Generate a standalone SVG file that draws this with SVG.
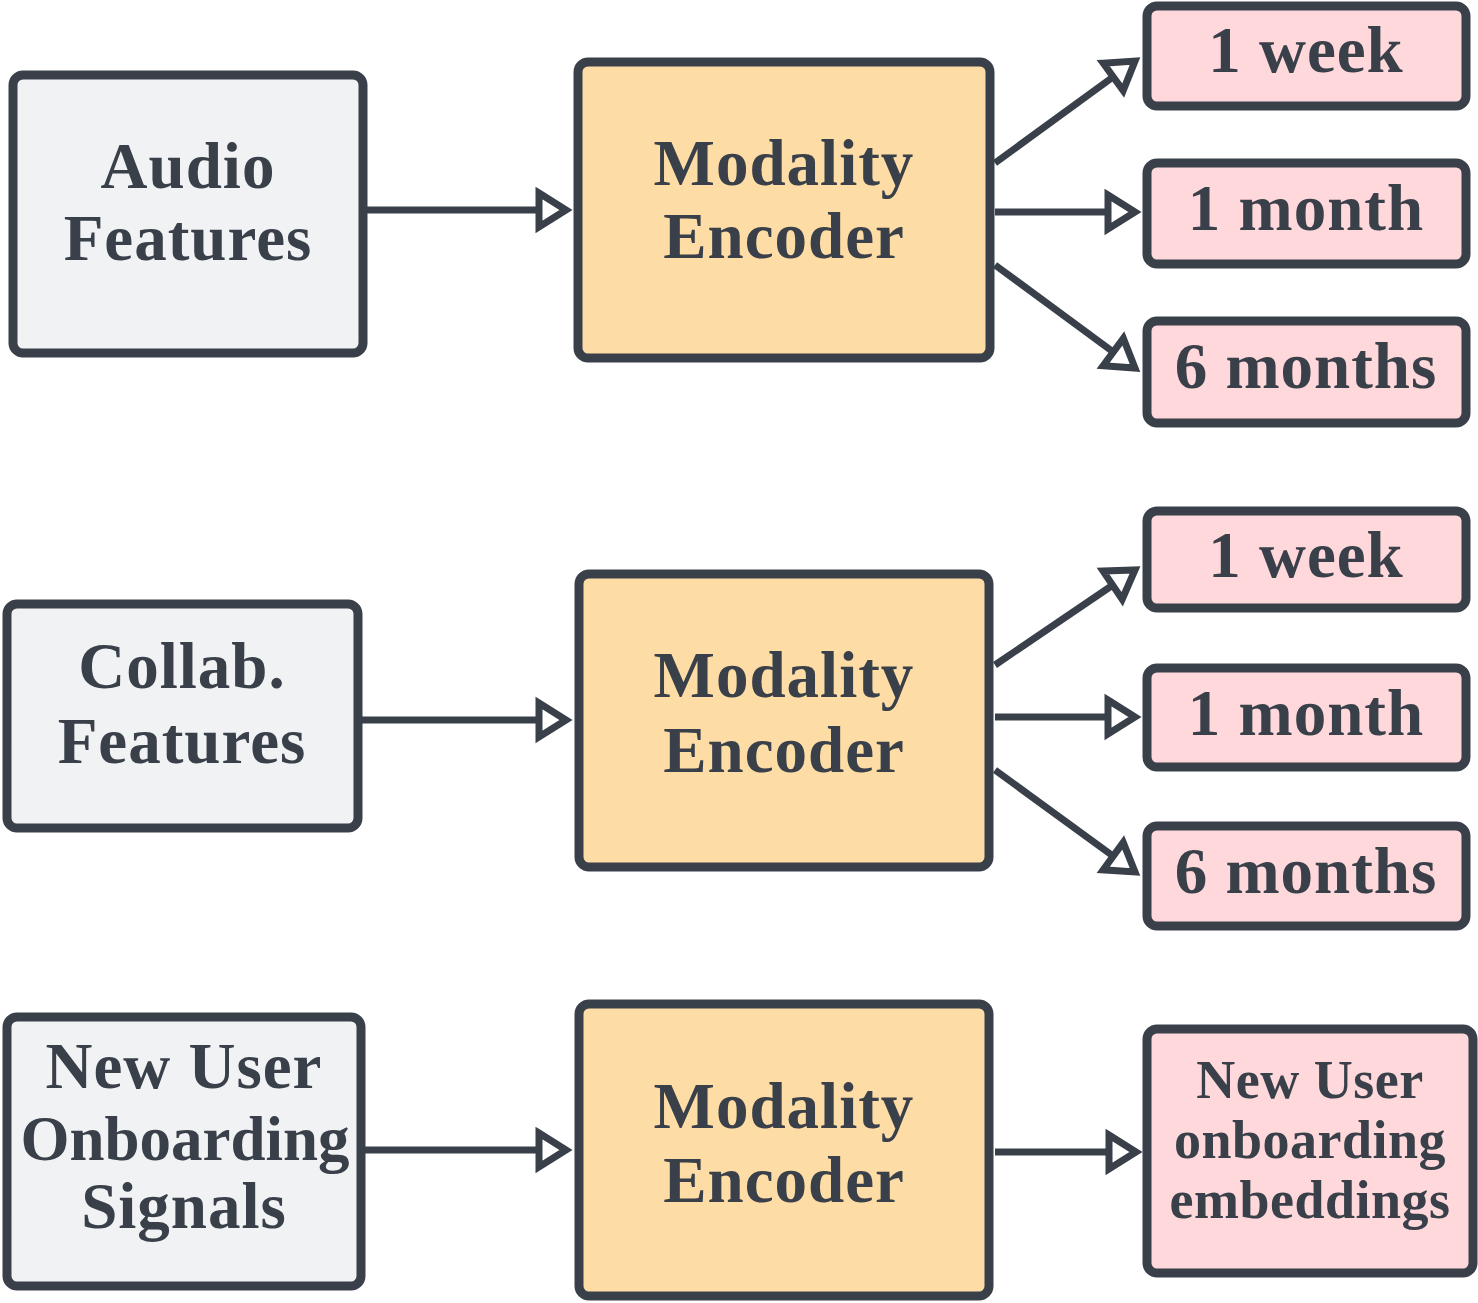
<svg xmlns="http://www.w3.org/2000/svg" width="1478" height="1303" viewBox="0 0 1478 1303">
<style>
.box{stroke:#3a404a;stroke-width:9}
.in{fill:#f1f2f4}
.enc{fill:#fedca5}
.out{fill:#fed8da}
text{font-family:"Liberation Serif","Times New Roman",serif;font-weight:bold;fill:#3a404a;text-anchor:middle}
.t64{font-size:65px;letter-spacing:1px}
.tight{font-size:63px;letter-spacing:0}
.t54{font-size:54px;letter-spacing:0.5px}
.c{fill:none;stroke:#3a404a;stroke-width:7;marker-end:url(#ah)}
</style>
<defs>
<marker id="ah" markerUnits="userSpaceOnUse" markerWidth="44" markerHeight="48" viewBox="0 0 44 48" refX="34" refY="24" orient="auto">
<path d="M7,7 L34,24 L7,41 Z" fill="#ffffff" stroke="#3a404a" stroke-width="7" stroke-linejoin="miter"/>
</marker>
</defs>
<rect width="1478" height="1303" fill="#ffffff"/>
<g id="connectors">
<path class="c" d="M367,210 L566,210"/>
<path class="c" d="M995,163 L1135,61"/>
<path class="c" d="M995,212 L1135,212"/>
<path class="c" d="M995,265 L1135,368"/>
<path class="c" d="M362,720 L566,720"/>
<path class="c" d="M995,665 L1135,570"/>
<path class="c" d="M995,717 L1135,717"/>
<path class="c" d="M995,770 L1135,872"/>
<path class="c" d="M365,1150 L566,1150"/>
<path class="c" d="M995,1152 L1136,1152"/>
</g>
<g id="audio"><rect class="box in" x="13" y="75" width="350" height="278" rx="10"/>
<text class="t64" x="188" y="188">Audio</text><text class="t64" x="188" y="260">Features</text></g>
<g id="enc1"><rect class="box enc" x="578" y="62" width="412" height="296" rx="10"/>
<text class="t64" x="784" y="185">Modality</text><text class="t64" x="784" y="258">Encoder</text></g>
<g id="o1w"><rect class="box out" x="1147" y="6" width="319" height="100" rx="10"/>
<text class="t64" x="1306" y="72">1 week</text></g>
<g id="o1m"><rect class="box out" x="1147" y="163" width="319" height="101" rx="10"/>
<text class="t64" x="1306" y="230">1 month</text></g>
<g id="o16"><rect class="box out" x="1147" y="321" width="319" height="102" rx="10"/>
<text class="t64" x="1306" y="388">6 months</text></g>
<g id="collab"><rect class="box in" x="7" y="604" width="351" height="224" rx="10"/>
<text class="t64" x="182" y="688">Collab.</text><text class="t64" x="182" y="763">Features</text></g>
<g id="enc2"><rect class="box enc" x="579" y="574" width="410" height="293" rx="10"/>
<text class="t64" x="784" y="697">Modality</text><text class="t64" x="784" y="772">Encoder</text></g>
<g id="o2w"><rect class="box out" x="1147" y="511" width="319" height="97" rx="10"/>
<text class="t64" x="1306" y="577">1 week</text></g>
<g id="o2m"><rect class="box out" x="1147" y="668" width="319" height="99" rx="10"/>
<text class="t64" x="1306" y="735">1 month</text></g>
<g id="o26"><rect class="box out" x="1147" y="826" width="319" height="100" rx="10"/>
<text class="t64" x="1306" y="893">6 months</text></g>
<g id="newuser"><rect class="box in" x="7" y="1017" width="354" height="269" rx="10"/>
<text class="t64" x="184" y="1088">New User</text><text class="tight" x="185" y="1160">Onboarding</text><text class="t64" x="184" y="1228">Signals</text></g>
<g id="enc3"><rect class="box enc" x="579" y="1004" width="410" height="292" rx="10"/>
<text class="t64" x="784" y="1128">Modality</text><text class="t64" x="784" y="1202">Encoder</text></g>
<g id="emb"><rect class="box out" x="1147" y="1029" width="326" height="244" rx="10"/>
<text class="t54" x="1310" y="1098">New User</text><text class="t54" x="1310" y="1158">onboarding</text><text class="t54" x="1310" y="1218">embeddings</text></g>
</svg>
